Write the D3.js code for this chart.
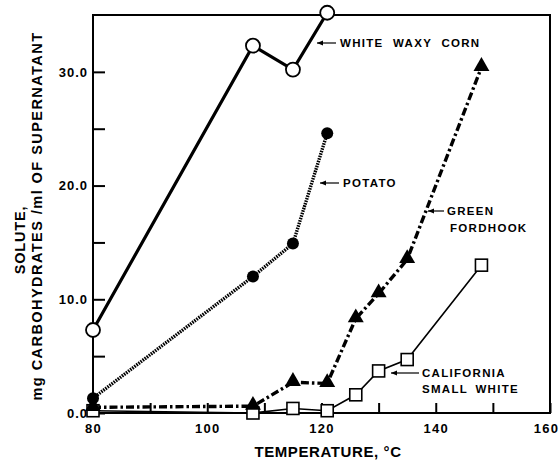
<!DOCTYPE html>
<html><head><meta charset="utf-8">
<script src="https://cdn.jsdelivr.net/npm/d3@7/dist/d3.min.js"></script>
<style>
body{margin:0;background:#fff;}
text{font-family:"Liberation Sans",Arial,sans-serif;font-weight:bold;fill:#000;}
</style></head>
<body><svg id="c" width="559" height="460"></svg>
<script>
const xTicks = [80, 100, 120, 140, 160];
const yTicks = [0, 10, 20, 30];
const cornX = [80, 108, 115, 121];
const cornY = [7.3, 32.3, 30.2, 35.2];
const potatoX = [80, 108, 115, 121];
const potatoY = [1.3, 12.0, 14.9, 24.6];
const fordX = [80, 108, 115, 121, 126, 130, 135, 148];
const fordY = [0.5, 0.6, 2.7, 2.6, 8.3, 10.5, 13.5, 30.4];
const califX = [80, 108, 115, 121, 126, 130, 135, 148];
const califY = [0.2, 0.0, 0.4, 0.2, 1.6, 3.7, 4.7, 13.0];

const svg = d3.select("#c");
const L = 93, R = 550, T = 15, B = 413;
const x = d3.scaleLinear().domain([80, 160]).range([L, R]);
const y = d3.scaleLinear().domain([0, 35]).range([B, T]);

// frame
svg.append("rect").attr("x", L).attr("y", T).attr("width", R - L).attr("height", B - T)
  .attr("fill", "none").attr("stroke", "#000").attr("stroke-width", 2);

// x axis (ticks inward)
const xAx = svg.append("g").attr("transform", `translate(0,${B})`)
  .call(d3.axisBottom(x).tickValues(d3.range(80, 161, 10)).tickSize(-10).tickSizeOuter(0)
    .tickFormat(d => xTicks.includes(d) ? d : ""));
xAx.select(".domain").remove();
xAx.selectAll("line").attr("stroke-width", 2);
xAx.selectAll("text").attr("font-size", 13).attr("y", 20).attr("dy", 0).style("letter-spacing", "1.2px")
  .attr("font-family", "Liberation Sans").attr("font-weight", "bold")
  .attr("dx", d => d === 160 ? -4 : 0);

// y axis
const yAx = svg.append("g").attr("transform", `translate(${L},0)`)
  .call(d3.axisLeft(y).tickValues(d3.range(0, 35, 5)).tickSize(-12).tickSizeOuter(0)
    .tickFormat(d => yTicks.includes(d) ? d.toFixed(1) : ""));
yAx.select(".domain").remove();
yAx.selectAll("line").attr("stroke-width", 2);
yAx.selectAll("text").attr("font-size", 13).attr("x", -5).style("letter-spacing", "1px")
  .attr("font-family", "Liberation Sans").attr("font-weight", "bold");

const line = d3.line().x(d => x(d[0])).y(d => y(d[1]));
const zip = (a, b) => a.map((v, i) => [v, b[i]]);

const g = svg.append("g");
// California small white
g.append("path").attr("d", line(zip(califX, califY))).attr("fill", "none")
  .attr("stroke", "#000").attr("stroke-width", 1.6);
// Green Fordhook
g.append("path").attr("d", line(zip(fordX, fordY))).attr("fill", "none")
  .attr("stroke", "#000").attr("stroke-width", 3.4).attr("stroke-dasharray", "8,3,2.5,3");
// Potato
g.append("path").attr("d", line(zip(potatoX, potatoY))).attr("fill", "none")
  .attr("stroke", "#000").attr("stroke-width", 3.4).attr("stroke-dasharray", "1.6,1");
// White waxy corn
g.append("path").attr("d", line(zip(cornX, cornY))).attr("fill", "none")
  .attr("stroke", "#000").attr("stroke-width", 3.2);

// markers
g.selectAll(".sq").data(zip(califX, califY)).enter().append("rect")
  .attr("x", d => x(d[0]) - 6).attr("y", d => y(d[1]) - 6).attr("width", 12).attr("height", 12)
  .attr("fill", "#fff").attr("stroke", "#000").attr("stroke-width", 1.6);
const tri = d3.symbol().type(d3.symbolTriangle).size(110);
g.selectAll(".tr").data(zip(fordX, fordY)).enter().append("path")
  .attr("d", tri).attr("transform", d => `translate(${x(d[0])},${y(d[1]) - 1})`).attr("fill", "#000");
g.selectAll(".pc").data(zip(potatoX, potatoY)).enter().append("circle")
  .attr("cx", d => x(d[0])).attr("cy", d => y(d[1])).attr("r", 6).attr("fill", "#000");
g.selectAll(".cc").data(zip(cornX, cornY)).enter().append("circle")
  .attr("cx", d => x(d[0])).attr("cy", d => y(d[1])).attr("r", 7)
  .attr("fill", "#fff").attr("stroke", "#000").attr("stroke-width", 1.8);

// labels with arrows
function arrow(x1, y1, x2, y2) {
  svg.append("line").attr("x1", x1).attr("y1", y1).attr("x2", x2).attr("y2", y2)
    .attr("stroke", "#000").attr("stroke-width", 1.2);
  svg.append("path").attr("d", `M${x2},${y2} l6,-2.5 l0,5 z`).attr("fill", "#000");
}
function label(tx, ty, s, ws) {
  svg.append("text").attr("x", tx).attr("y", ty).attr("font-size", 11.5)
    .style("letter-spacing", "1.3px").style("word-spacing", (ws || 0) + "px").text(s);
}
arrow(336, 43, 317, 43); label(340, 47, "WHITE WAXY CORN", 5);
arrow(339, 183, 320, 183); label(343, 187, "POTATO");
arrow(444, 211, 428, 211); label(447, 215, "GREEN");
label(450, 232, "FORDHOOK");
arrow(419, 373, 391, 373); label(422, 377, "CALIFORNIA");
label(422, 393, "SMALL WHITE", 3);

// axis titles
svg.append("text").attr("x", 328).attr("y", 457).attr("text-anchor", "middle")
  .attr("font-size", 15).style("letter-spacing", "0.6px").text("TEMPERATURE, °C");
svg.append("text").attr("transform", "translate(25,240) rotate(-90)").attr("text-anchor", "middle")
  .attr("font-size", 14.5).style("letter-spacing", "0.8px").text("SOLUTE,");
svg.append("text").attr("transform", "translate(42,216) rotate(-90)").attr("text-anchor", "middle")
  .attr("font-size", 14.5).style("letter-spacing", "1.45px").text("mg CARBOHYDRATES /ml OF SUPERNATANT");
</script></body></html>
